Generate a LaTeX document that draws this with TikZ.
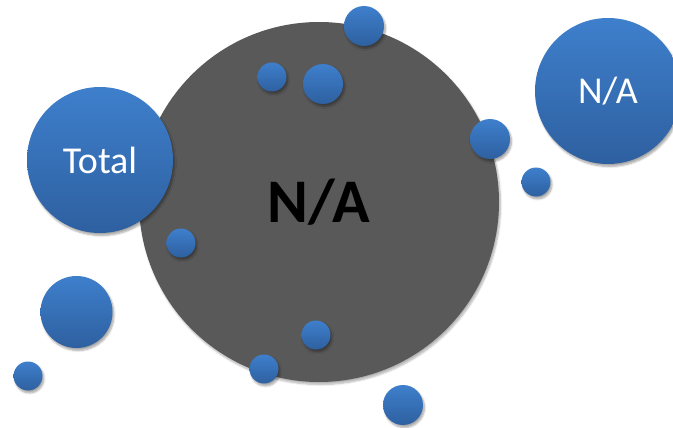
\documentclass[tikz,border=0pt]{standalone}
\usepackage{fontspec}
\setmainfont{Carlito}
\usetikzlibrary{shadows.blur}
\definecolor{grayc}{HTML}{595959}
\definecolor{bluetop}{HTML}{3E7FCC}
\definecolor{bluebot}{HTML}{2E60A0}
\tikzset{
  bubble/.style={circle, inner sep=0pt, minimum size=#1,
    top color=bluetop, bottom color=bluebot, draw=none,
    blur shadow={shadow xshift=1.5pt, shadow yshift=-2.5pt, shadow blur steps=6, shadow opacity=35},
    text=white, font=\fontsize{38}{40}\selectfont},
  bigc/.style={circle, inner sep=0pt, minimum size=360pt, fill=grayc, draw=none,
    blur shadow={shadow xshift=1.5pt, shadow yshift=-2.5pt, shadow blur steps=6, shadow opacity=30},
    text=black, font=\bfseries\fontsize{62}{64}\selectfont}
}
\begin{document}
\begin{tikzpicture}[x=1pt,y=-1pt]
\useasboundingbox (0,0) rectangle (673,428);
\begin{scope}
\clip (0,0) rectangle (673,428);
\node[bigc] (main) at (319,202) {N/A};
\node[bubble=146pt] (total) at (100,160) {Total};
\node[bubble=146pt] (na) at (608,91) {N/A};
\node[bubble=40pt] (s1) at (364,26) {};
\node[bubble=29pt] (s2) at (272,77) {};
\node[bubble=40pt] (s3) at (323,84) {};
\node[bubble=40pt] (s4) at (490,139) {};
\node[bubble=29pt] (s5) at (536,182) {};
\node[bubble=29pt] (s6) at (181,243) {};
\node[bubble=72pt] (s7) at (76.5,312) {};
\node[bubble=29pt] (s8) at (316,335) {};
\node[bubble=29pt] (s9) at (264,369) {};
\node[bubble=29pt] (s10) at (28,376) {};
\node[bubble=40pt] (s11) at (403,405) {};
\end{scope}
\end{tikzpicture}
\end{document}
